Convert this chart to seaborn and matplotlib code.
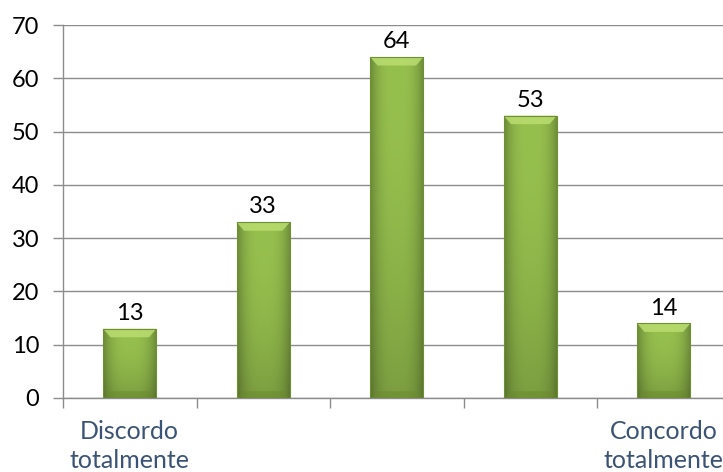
import numpy as np
import pandas as pd
import matplotlib
matplotlib.use("Agg")
import matplotlib.pyplot as plt
import seaborn as sns

categories = ["Discordo\ntotalmente", "c2", "c3", "c4", "Concordo\ntotalmente"]
tick_labels = ["Discordo\ntotalmente", "", "", "", "Concordo\ntotalmente"]
values = [13, 33, 64, 53, 14]

sns.set_style("white")
plt.rcParams["font.family"] = ["Lato", "DejaVu Sans"]

fig = plt.figure(figsize=(7.23, 4.72), dpi=100)
ax = fig.add_axes([63 / 723, 74 / 472, 667.5 / 723, 373 / 472])

df = pd.DataFrame({"cat": categories, "val": values})
sns.barplot(data=df, x="cat", y="val", color="#9BBB59", width=0.4, ax=ax,
            edgecolor="none", linewidth=0)

# bevel gradient image
def bevel_image(w=60, h=200):
    base = np.array([150, 192, 78]) / 255.0
    xs = np.linspace(0, 1, w)
    ys = np.linspace(0, 1, h)
    X, Y = np.meshgrid(xs, ys)
    img = np.tile(base, (h, w, 1))
    hx = 1 - 0.28 * (np.abs(X - 0.5) * 2) ** 3
    img = img * hx[..., None]
    img = img * (1 - 0.18 * Y[..., None] ** 2)
    return np.clip(img, 0, 1)

img = bevel_image()
for p in ax.patches:
    x0, y0 = p.get_x(), p.get_y()
    w, h = p.get_width(), p.get_height()
    im = ax.imshow(img, extent=[x0, x0 + w, y0, y0 + h], origin="upper",
                   aspect="auto", zorder=3, interpolation="bilinear")
    im.set_clip_path(p)
    bev = min(1.6, h * 0.3)
    inset = w * 0.14
    top = plt.Polygon([[x0, y0 + h], [x0 + w, y0 + h], [x0 + w - inset, y0 + h - bev],
                       [x0 + inset, y0 + h - bev]], closed=True,
                      facecolor="#b8db6e", edgecolor="none", zorder=4, alpha=0.9)
    ax.add_patch(top)
    bot = plt.Polygon([[x0, y0], [x0 + w, y0], [x0 + w - inset, y0 + bev * 0.8],
                       [x0 + inset, y0 + bev * 0.8]], closed=True,
                      facecolor="#6a8a2c", edgecolor="none", zorder=4, alpha=0.5)
    ax.add_patch(bot)
    ax.add_patch(plt.Rectangle((x0, y0), w, h, fill=False, edgecolor="#6e8f33",
                               linewidth=0.8, zorder=5))

for i, v in enumerate(values):
    ax.text(i, v + 0.9, str(v), ha="center", va="bottom", fontsize=17,
            color="#000000", zorder=6)

ax.set_xlim(-0.5, 4.5)
ax.set_ylim(0, 70)
ax.set_yticks(np.arange(0, 71, 10))
ax.yaxis.grid(True, color="#8c8c8c", linewidth=1.0)
ax.set_axisbelow(True)
ax.set_xlabel("")
ax.set_ylabel("")

for s in ["top", "right"]:
    ax.spines[s].set_visible(False)
for s in ["left", "bottom"]:
    ax.spines[s].set_color("#8c8c8c")
    ax.spines[s].set_linewidth(1.0)

ax.set_xticks(np.arange(-0.5, 5, 1.0))
ax.set_xticklabels([])
ax.set_xticks(np.arange(0, 5), minor=True)
ax.set_xticklabels(tick_labels, minor=True, fontsize=18, color="#3b5374",
                   linespacing=1.3)
ax.tick_params(axis="x", which="major", direction="out", length=7, color="#8c8c8c",
               width=1.0, bottom=True)
ax.tick_params(axis="x", which="minor", length=0, pad=16)
ax.tick_params(axis="y", direction="out", length=7, color="#8c8c8c", width=1.0,
               left=True, labelsize=17, labelcolor="#000000", pad=10)

fig.savefig("out.png", dpi=100)
